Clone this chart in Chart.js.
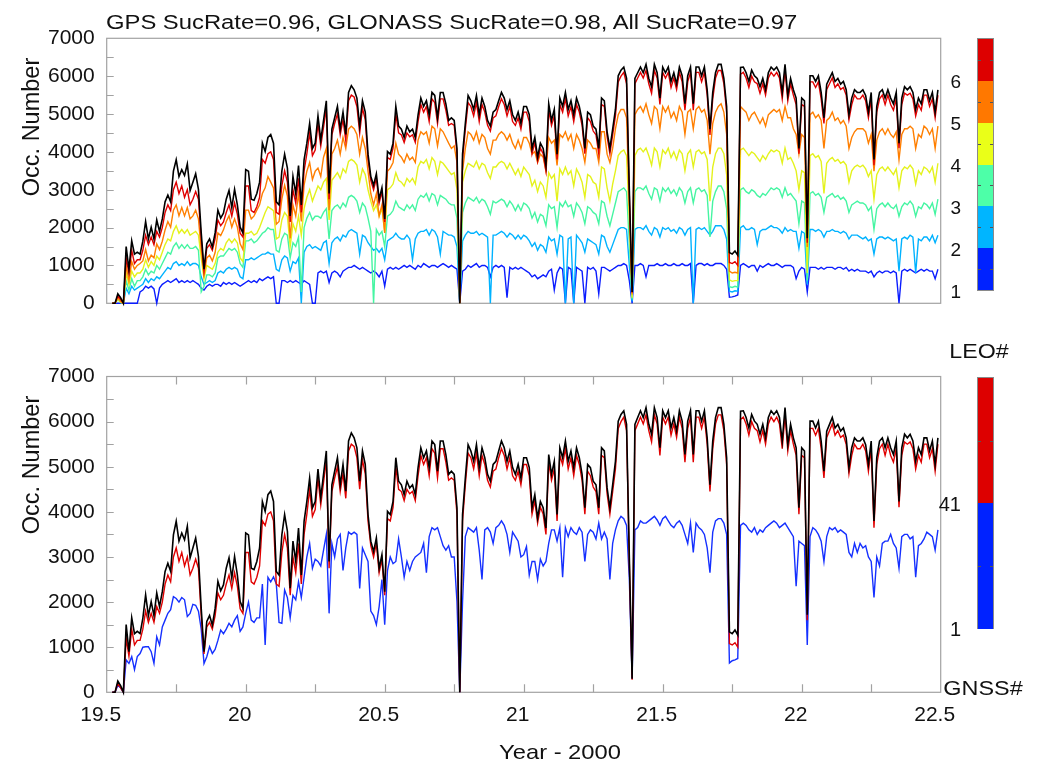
<!DOCTYPE html>
<html>
<head>
<meta charset="utf-8">
<title>Occultation number per day</title>
<script src="https://cdn.jsdelivr.net/npm/chart.js@4.4.1/dist/chart.umd.min.js"></script>
<style>
  html, body { margin: 0; padding: 0; background: #fff; }
  #wrap { position: relative; width: 1038px; height: 772px; overflow: hidden;
          font-family: "Liberation Sans", Arial, sans-serif; color: #111; }
  canvas { position: absolute; left: 0; top: 0; }
  .t { position: absolute; white-space: nowrap; line-height: 1; }
  .bar { position: absolute; left: 977px; width: 17px; box-sizing: border-box; }
  .tick { position: absolute; width: 3px; height: 1px; background: #555; }
</style>
</head>
<body>
<div id="wrap">
  <canvas id="panelTop" width="1038" height="772"></canvas>
  <canvas id="panelBottom" width="1038" height="772"></canvas>

  <div class="t" style="left:106px; top:12px; font-size:20px; transform-origin:0 50%; transform:scaleX(1.19);">GPS SucRate=0.96, GLONASS SucRate=0.98, All SucRate=0.97</div>

  <div class="t" style="left:32px; top:127px; font-size:23.5px; transform:translate(-50%,-50%) rotate(-90deg);">Occ. Number</div>
  <div class="t" style="left:32px; top:465px; font-size:23.5px; transform:translate(-50%,-50%) rotate(-90deg);">Occ. Number</div>
  <div class="t" style="left:560px; top:741px; font-size:21px; transform:translateX(-50%) scaleX(1.13);">Year - 2000</div>

  <!-- LEO colour bar -->
  <div id="leoBar"></div>
  <div class="t" style="right:77px; top:72px; font-size:19px;">6</div>
  <div class="t" style="right:77px; top:114px; font-size:19px;">5</div>
  <div class="t" style="right:77px; top:156px; font-size:19px;">4</div>
  <div class="t" style="right:77px; top:198px; font-size:19px;">3</div>
  <div class="t" style="right:77px; top:240px; font-size:19px;">2</div>
  <div class="t" style="right:77px; top:282px; font-size:19px;">1</div>
  <div class="t" style="left:979px; top:341px; font-size:20px; transform:translateX(-50%) scaleX(1.16);">LEO#</div>

  <!-- GNSS colour bar -->
  <div id="gnssBar"></div>
  <div class="t" style="right:77px; top:494px; font-size:20px;">41</div>
  <div class="t" style="right:77px; top:619px; font-size:20px;">1</div>
  <div class="t" style="left:983px; top:678px; font-size:20px; transform:translateX(-50%) scaleX(1.17);">GNSS#</div>
</div>

<script>
// Daily occultation counts, sampled every 0.01 year starting at 19.50 (Year - 2000).
const startYear = 19.50;
const stepYear = 0.01;

// Total number of occultations (all LEOs / all GNSS)
const occAll = [
  null, null, 0, 0, 250, 150, 0, 1500, 900, 1650,
  1300, 1350, 1300, 1640, 2160, 1700, 2010, 1700, 2200, 1900,
  2230, 2680, 2860, 2680, 3490, 3790, 3350, 3530, 3380, 3680,
  2980, 3200, 3420, 3010, 1860, 900, 1570, 1700, 1490, 1860,
  2460, 2250, 2380, 2750, 2980, 2530, 3010, 2600, 2010, 1860,
  3530, 3490, 2750, 2720, 2900, 3200, 4230, 4010, 4380, 4460,
  4230, 2680, 2600, 3490, 3940, 3570, 2310, 3350, 2900, 3640,
  2600, 3790, 4230, 4750, 4090, 4230, 4950, 4310, 4830, 5350,
  2900, 4600, 4900, 5200, 4600, 5050, 4460, 5570, 5750, 5640,
  5420, 4680, 5350, 5050, 3940, 3350, 3120, 3420, 2750, 3050,
  2230, 4010, 3940, 4230, 5200, 4680, 4600, 4380, 4680, 4530,
  4600, 4380, 4980, 5420, 5200, 5350, 4980, 5570, 5490, 4900,
  5570, 5570, 5270, 4830, 4900, 4830, 4090, 0, 3940, 4750,
  5490, 5350, 5120, 5490, 4980, 5420, 5200, 4830, 4680, 5050,
  5120, 5350, 5570, 5420, 5120, 5350, 4980, 4830, 5050, 4750,
  5200, 5200, 4980, 4090, 4380, 3860, 4230, 4090, 3640, 5270,
  4830, 5120, 3940, 5420, 5200, 5570, 5120, 5350, 4980, 5420,
  5200, 4830, 4090, 5050, 4980, 4680, 4600, 4090, 5420, 5350,
  4530, 4090, 4600, 5120, 6010, 6160, 6240, 5940, 2980, 300,
  5940, 6090, 6240, 6090, 6310, 5940, 5720, 6310, 6090, 5420,
  6240, 6090, 6240, 5860, 6090, 5790, 6240, 6010, 5270, 6010,
  6240, 5270, 6240, 6240, 6010, 6240, 5640, 4600, 5570, 6090,
  6310, 6310, 5940, 5200, 1340, 1300, 1380, 1270, 6230, 6240,
  6090, 5860, 6160, 6010, 5940, 5720, 5940, 5640, 6090, 6240,
  6160, 6240, 6090, 5570, 6310, 5490, 5940, 5640, 5420, 4090,
  5420, 5350, 1720, 6010, 6010, 5860, 6010, 5570, 4900, 5790,
  5940, 6090, 5860, 5940, 5790, 5860, 5640, 4980, 5420, 5640,
  5570, 5570, 5640, 5490, 5050, 5570, 3800, 5200, 5570, 5640,
  5420, 5640, 5420, 5270, 5570, 4230, 5420, 5720, 5640, 5720,
  5570, 5120, 5420, 5270, 5640, 5640, 5350, 5570, 5050, 5640
];

// Red curve just under the total (top: up to 6 LEOs, bottom: all but the last GNSS group)
const occNearAll = [
  null, null, 0, 0, 200, 100, 0, 1200, 800, 1400,
  1050, 1150, 1150, 1400, 1800, 1550, 1750, 1550, 1900, 1750,
  2000, 2400, 2600, 2450, 3000, 3200, 2900, 3100, 2800, 3000,
  2600, 2750, 2950, 2750, 1700, 850, 1450, 1550, 1400, 1700,
  2200, 2050, 2150, 2400, 2600, 2300, 2650, 2350, 1850, 1750,
  3100, 3100, 2450, 2400, 2550, 2800, 3800, 3700, 3950, 4000,
  3800, 2400, 2350, 3100, 3500, 3200, 2150, 3000, 2650, 3300,
  2400, 3500, 3950, 4500, 3900, 4050, 4750, 4150, 4650, 5150,
  2750, 4450, 4750, 5000, 4450, 4850, 4300, 5350, 5500, 5450,
  5200, 4500, 5150, 4850, 3800, 3250, 3000, 3300, 2650, 2950,
  2150, 3850, 3800, 4100, 5000, 4500, 4450, 4250, 4500, 4400,
  4450, 4250, 4800, 5250, 5050, 5200, 4800, 5400, 5300, 4750,
  5400, 5400, 5100, 4700, 4750, 4700, 3950, 0, 3800, 4600,
  5300, 5200, 4950, 5300, 4800, 5250, 5050, 4700, 4550, 4900,
  4950, 5200, 5400, 5250, 4950, 5200, 4800, 4700, 4900, 4600,
  5050, 5050, 4800, 3950, 4250, 3750, 4100, 3950, 3500, 5100,
  4700, 4950, 3800, 5250, 5050, 5400, 4950, 5200, 4800, 5250,
  5050, 4700, 3950, 4900, 4800, 4550, 4450, 3950, 5250, 5200,
  4400, 3950, 4450, 4950, 5850, 6000, 6100, 5800, 2850, 280,
  5800, 5950, 6100, 5950, 6150, 5800, 5550, 6150, 5950, 5250,
  6100, 5950, 6100, 5700, 5950, 5650, 6100, 5850, 5100, 5850,
  6100, 5100, 6100, 6100, 5850, 6100, 5500, 4450, 5400, 5950,
  6150, 6150, 5800, 5050, 1080, 1050, 1100, 1000, 6050, 6100,
  5950, 5700, 6000, 5850, 5800, 5550, 5800, 5500, 5950, 6100,
  6000, 6100, 5950, 5400, 6150, 5350, 5800, 5500, 5250, 3950,
  5250, 5200, 1600, 5850, 5850, 5700, 5850, 5400, 4750, 5650,
  5800, 5950, 5700, 5800, 5650, 5700, 5500, 4850, 5250, 5500,
  5400, 5400, 5500, 5350, 4900, 5400, 3650, 5050, 5400, 5500,
  5250, 5500, 5250, 5100, 5400, 4100, 5250, 5550, 5500, 5550,
  5400, 4950, 5250, 5100, 5500, 5500, 5200, 5400, 4900, 5500
];

// Occultations from up to 5 LEOs
const occLeo5 = [
  null, null, 0, 0, 150, 50, 0, 1000, 600, 1100,
  900, 1000, 1050, 1120, 1420, 1120, 1270, 1200, 1570, 1420,
  1640, 1940, 2160, 2010, 2460, 2600, 2310, 2530, 2310, 2530,
  2230, 2310, 2460, 2230, 1420, 750, 1200, 1270, 1120, 1340,
  1860, 1790, 1940, 2160, 2310, 2010, 2230, 2010, 1570, 1420,
  2460, 2460, 2230, 2310, 2460, 2600, 2900, 3050, 3350, 3200,
  3050, 2090, 2160, 2750, 3120, 2830, 1710, 2600, 2310, 2900,
  2160, 3120, 3490, 3720, 3270, 3490, 3570, 3350, 3860, 4090,
  2460, 3940, 4090, 4310, 3940, 4380, 4090, 4600, 4680, 4610,
  4460, 3940, 4380, 4090, 3490, 2900, 2600, 2900, 2310, 2600,
  1860, 3490, 3570, 3720, 4230, 3940, 3860, 3720, 3940, 3790,
  3860, 3720, 4310, 4530, 4460, 4530, 4230, 4680, 4610, 4160,
  4610, 4530, 4380, 4230, 4090, 4160, 3720, 0, 3490, 4090,
  4530, 4460, 4310, 4530, 4230, 4460, 4380, 4090, 3940, 4310,
  4310, 4460, 4530, 4460, 4310, 4460, 4230, 4090, 4310, 4090,
  4380, 4380, 4230, 3940, 4010, 3720, 3940, 3860, 3490, 4380,
  4230, 4310, 3640, 4460, 4380, 4530, 4310, 4460, 4090, 4460,
  4310, 4090, 3720, 4310, 4230, 4090, 4090, 3720, 4530, 4530,
  3940, 3720, 4090, 4610, 4980, 5120, 5120, 4900, 2600, 230,
  4980, 5120, 5200, 5050, 5270, 4980, 4750, 5200, 5120, 4610,
  5200, 5050, 5200, 4900, 5050, 4830, 5200, 5050, 4460, 5050,
  5120, 4610, 5120, 5200, 5050, 5120, 4830, 3940, 4750, 5050,
  5200, 5270, 5050, 4460, 850, 800, 820, 800, 5200, 5120,
  5050, 4830, 4980, 5050, 4900, 4750, 4900, 4680, 4980, 5050,
  5120, 5050, 5120, 4830, 5200, 4900, 4900, 4610, 4460, 3940,
  4460, 4380, 1490, 4980, 5050, 4900, 4980, 4830, 4090, 4830,
  4900, 5050, 4830, 4900, 4750, 4830, 4680, 4090, 4380, 4530,
  4610, 4610, 4610, 4530, 4230, 4460, 3490, 4310, 4530, 4610,
  4460, 4610, 4460, 4380, 4530, 3790, 4460, 4610, 4610, 4680,
  4610, 4090, 4460, 4380, 4680, 4610, 4460, 4610, 4090, 4680
];

// Occultations from up to 4 LEOs
const occLeo4 = [
  null, null, 0, 0, 120, 30, 0, 800, 500, 850,
  700, 800, 800, 900, 1150, 950, 1100, 1000, 1250, 1150,
  1350, 1550, 1700, 1650, 1900, 2050, 1850, 1950, 1850, 1950,
  1800, 1850, 1900, 1800, 1200, 650, 1000, 950, 900, 1050,
  1350, 1450, 1400, 1600, 1700, 1600, 1700, 1600, 1200, 1100,
  1850, 1850, 1900, 1800, 1850, 2000, 2200, 2400, 2550, 2500,
  2450, 1700, 1750, 2200, 2400, 2300, 1500, 2100, 1900, 2300,
  1800, 2500, 2800, 3000, 2700, 2900, 3100, 3000, 3200, 3300,
  2200, 3250, 3350, 3450, 3300, 3550, 3450, 3750, 3800, 3750,
  3650, 3200, 3550, 3400, 3000, 2700, 2450, 2600, 2300, 2500,
  1900, 3000, 3050, 3150, 3450, 3250, 3200, 3100, 3300, 3200,
  3300, 3150, 3600, 3750, 3700, 3800, 3550, 3850, 3750, 3400,
  3750, 3700, 3600, 3500, 3400, 3450, 3000, 0, 3200, 3500,
  3700, 3650, 3600, 3750, 3550, 3700, 3650, 3450, 3300, 3600,
  3600, 3700, 3750, 3700, 3550, 3700, 3550, 3400, 3550, 3350,
  3600, 3500, 3400, 3100, 3250, 2950, 3200, 3100, 2800, 3450,
  3300, 3400, 2700, 3550, 3400, 3600, 3400, 3500, 3100, 3550,
  3400, 3200, 2800, 3400, 3350, 3200, 3150, 2800, 3600, 3550,
  3050, 2700, 3150, 3500, 3900, 4000, 4050, 3900, 2200, 150,
  3900, 4050, 4100, 4000, 4100, 3900, 3650, 4100, 4000, 3600,
  4050, 3950, 4100, 3850, 4000, 3800, 4050, 3950, 3500, 3950,
  4050, 3600, 4000, 4050, 3950, 4000, 3800, 2700, 3600, 3950,
  4100, 4100, 3950, 3400, 620, 580, 600, 600, 4050, 4100,
  4000, 3900, 4000, 3950, 3850, 3750, 3900, 3800, 3950, 4050,
  4000, 4050, 4000, 3700, 4100, 3800, 3850, 3700, 3500, 3000,
  3500, 3450, 800, 3900, 3950, 3850, 3900, 3750, 2900, 3700,
  3800, 3850, 3750, 3800, 3700, 3750, 3650, 3200, 3500, 3600,
  3650, 3600, 3650, 3550, 3350, 3500, 2750, 3400, 3550, 3600,
  3500, 3600, 3500, 3400, 3550, 3050, 3500, 3600, 3550, 3650,
  3550, 3150, 3500, 3400, 3600, 3550, 3450, 3600, 3200, 3700
];

// Occultations from up to 3 LEOs
const occLeo3 = [
  null, null, 0, 0, 100, 20, 0, 600, 350, 650,
  450, 600, 600, 700, 900, 750, 850, 800, 1000, 900,
  1050, 1200, 1350, 1300, 1500, 1600, 1450, 1550, 1450, 1550,
  1450, 1450, 1500, 1400, 300, 450, 750, 750, 700, 800,
  1200, 1250, 1250, 1350, 1450, 1400, 1450, 1350, 1050, 950,
  1650, 1650, 1700, 1600, 1650, 1750, 1850, 1900, 2000, 1950,
  1950, 1400, 1350, 1700, 1850, 1800, 1200, 1600, 1500, 1750,
  300, 2000, 2250, 2400, 2200, 2300, 2300, 2250, 2400, 2500,
  1700, 2450, 2550, 2600, 2500, 2650, 2550, 2800, 2850, 2800,
  2700, 2400, 2650, 2550, 2250, 1900, 0, 1950, 1800, 1900,
  1500, 2300, 2350, 2450, 2700, 2550, 2500, 2450, 2600, 2500,
  2600, 2450, 2750, 2850, 2800, 2900, 2700, 2900, 2850, 2600,
  2850, 2800, 2750, 2650, 2600, 2600, 2250, 0, 2400, 2650,
  2800, 2750, 2700, 2800, 2650, 2750, 2700, 2550, 2350, 2700,
  2650, 2700, 2750, 2700, 2550, 2700, 2600, 2450, 2600, 2450,
  2650, 2600, 2500, 2250, 2400, 2150, 2350, 2300, 2050, 2600,
  2500, 2550, 2000, 2650, 2550, 2700, 2550, 2600, 2300, 2650,
  2550, 2400, 2100, 2550, 2500, 2400, 2350, 2100, 2700, 2650,
  2300, 2050, 2350, 2650, 2950, 3000, 3050, 2950, 1600, 100,
  2950, 3050, 3050, 3000, 3100, 2900, 2750, 3050, 3000, 2700,
  3050, 2950, 3050, 2900, 3000, 2850, 3050, 2950, 2650, 2950,
  3050, 2650, 3000, 3050, 2950, 3000, 2850, 1750, 2700, 2950,
  3100, 3100, 2950, 2500, 440, 420, 450, 430, 3000, 3050,
  2950, 2900, 3000, 2950, 2850, 2800, 2900, 2850, 2950, 3050,
  3000, 3050, 3000, 2800, 3050, 2850, 2900, 2800, 2700, 2100,
  2700, 2650, 600, 2900, 2950, 2850, 2900, 2800, 2400, 2800,
  2850, 2900, 2800, 2850, 2750, 2800, 2700, 2400, 2600, 2650,
  2700, 2650, 2650, 2600, 2450, 2550, 1950, 2500, 2600, 2650,
  2550, 2650, 2550, 2500, 2600, 2300, 2550, 2650, 2600, 2700,
  2600, 2300, 2550, 2500, 2650, 2600, 2500, 2650, 2350, 2750
];

// Occultations from up to 2 LEOs
const occLeo2 = [
  null, null, 0, 0, 150, 50, 0, 400, 250, 450,
  350, 400, 450, 500, 650, 550, 650, 600, 700, 650,
  750, 850, 950, 900, 1050, 1100, 1000, 1050, 1000, 1100,
  1000, 1050, 1050, 1000, 700, 500, 550, 600, 550, 600,
  800, 850, 800, 900, 950, 900, 950, 900, 700, 650,
  1150, 1150, 1200, 1150, 1200, 1250, 1300, 1300, 1350, 1300,
  1300, 900, 850, 1150, 1250, 1200, 850, 1100, 1050, 1200,
  0, 1350, 1500, 1550, 1450, 1500, 1450, 1400, 1600, 1650,
  1050, 1600, 1700, 1750, 1650, 1800, 1750, 1900, 1950, 1900,
  1850, 1300, 1800, 1750, 1600, 1500, 1400, 1450, 1350, 1450,
  1150, 1650, 1700, 1750, 1850, 1750, 1700, 1700, 1800, 1700,
  1150, 1700, 1850, 1900, 1900, 1950, 1800, 1950, 1900, 1750,
  1300, 1900, 1850, 1800, 1800, 1750, 1500, 0, 1650, 1800,
  1900, 1850, 1850, 1900, 1800, 1850, 1800, 1750, 0, 1800,
  1800, 1850, 1900, 1850, 1750, 1850, 1800, 1700, 1800, 1700,
  1800, 1750, 1650, 1500, 1600, 1400, 1550, 1500, 1350, 1750,
  1650, 1700, 1300, 1800, 1750, 0, 1700, 1750, 0, 1800,
  1700, 1600, 1350, 1700, 1650, 1600, 1550, 1300, 1800, 1750,
  1500, 1350, 1550, 1750, 1950, 2000, 2000, 1950, 1000, 50,
  1950, 2000, 2000, 1950, 2050, 1900, 1800, 2000, 1950, 1750,
  2000, 1950, 2000, 1900, 1950, 1850, 2000, 1950, 1800, 1950,
  2000, 0, 1950, 2000, 1950, 2000, 1900, 1800, 1900, 2050,
  2050, 2050, 1950, 1700, 320, 300, 330, 320, 2000, 2050,
  1950, 1950, 2000, 1950, 1550, 1900, 1950, 1950, 2000, 2050,
  2000, 2000, 1950, 1850, 2000, 1900, 1950, 1900, 1900, 1450,
  1900, 1850, 500, 1950, 1950, 1900, 1950, 1900, 1750, 1900,
  1900, 1950, 1900, 1900, 1850, 1900, 1850, 1700, 1800, 1800,
  1800, 1750, 1700, 1750, 1650, 1700, 1300, 1700, 1750, 1750,
  1700, 1750, 1700, 1650, 1700, 850, 1700, 1750, 1700, 1800,
  1750, 800, 1700, 1650, 1750, 1750, 1650, 1800, 1600, 1800
];

// Occultations from a single LEO
const occLeo1 = [
  null, null, 0, 0, 0, 0, 0, 0, 0, 0,
  0, 0, 300, 350, 450, 400, 450, 380, 0, 400,
  500, 550, 600, 550, 600, 650, 550, 600, 550, 600,
  550, 600, 550, 500, 400, 350, 450, 500, 450, 500,
  500, 450, 550, 500, 550, 500, 550, 500, 450, 500,
  550, 600, 550, 600, 550, 650, 600, 650, 700, 650,
  700, 0, 0, 600, 600, 550, 600, 550, 600, 550,
  500, 600, 550, 500, 0, 0, 800, 850, 800, 850,
  550, 800, 850, 800, 700, 850, 900, 950, 950, 1000,
  950, 900, 950, 900, 850, 800, 850, 800, 700, 850,
  450, 900, 950, 900, 950, 900, 950, 1000, 950, 1000,
  950, 900, 1000, 950, 1050, 1000, 950, 1000, 1000, 950,
  1000, 1050, 1000, 950, 1000, 950, 900, 0, 850, 900,
  1000, 950, 1000, 1050, 950, 1000, 1000, 950, 700, 950,
  1000, 950, 1000, 950, 150, 950, 900, 950, 900, 950,
  900, 850, 800, 700, 750, 650, 700, 750, 700, 850,
  900, 350, 800, 950, 900, 0, 950, 900, 0, 950,
  900, 850, 0, 950, 900, 950, 850, 250, 950, 950,
  900, 850, 900, 950, 1000, 1000, 1050, 1000, 600, 0,
  1000, 1000, 1050, 1000, 700, 1000, 1000, 1000, 1050, 1000,
  1000, 1050, 1000, 1000, 1050, 1000, 1000, 1050, 1000, 1000,
  1050, 0, 1000, 1050, 1050, 1000, 1050, 1000, 1000, 1050,
  1050, 1050, 1000, 900, 160, 170, 190, 220, 1000, 1050,
  1000, 950, 1000, 1000, 850, 1000, 950, 1000, 1050, 1000,
  1000, 1050, 1000, 950, 1000, 1000, 1000, 950, 650, 850,
  950, 900, 300, 950, 950, 950, 900, 950, 900, 950,
  950, 950, 900, 950, 950, 900, 950, 850, 900, 850,
  900, 850, 850, 850, 800, 850, 700, 800, 850, 800,
  850, 850, 800, 850, 800, 0, 850, 900, 850, 900,
  850, 800, 850, 900, 850, 900, 850, 850, 650, 900
];

// Occultations from GNSS satellites 1-40 (GPS)
const occGps = [
  null, null, 0, 0, 150, 100, 0, 720, 640, 790,
  500, 790, 860, 1000, 1010, 1010, 900, 640, 1230, 1050,
  1450, 1600, 1750, 1830, 2120, 2080, 2000, 2100, 2050, 1680,
  1750, 1950, 1930, 1800, 1400, 640, 790, 1010, 860, 950,
  1150, 1380, 1300, 1400, 1530, 1450, 1600, 1700, 1350, 1450,
  1750, 2000, 1600, 1550, 1650, 1650, 2400, 1050, 2550, 2450,
  2560, 2400, 1550, 1530, 2270, 2100, 1650, 2150, 2050, 2450,
  2100, 2550, 3000, 3300, 2750, 2950, 2900, 2800, 3150, 3500,
  1750, 3300, 3000, 3400, 3500, 2700, 3200, 3550, 3500, 3550,
  3500, 2300, 3200, 3050, 2900, 1800, 1700, 1500, 1900, 2500,
  1500, 2700, 3000, 2850, 2900, 3400, 3000, 2550, 2900, 2700,
  2900, 3000, 3050, 3100, 3300, 2650, 3450, 3650, 3600, 3650,
  3450, 3250, 3150, 3250, 3000, 3000, 2000, 0, 2000, 3450,
  3650, 3600, 3550, 3650, 3150, 2500, 3600, 3650, 3550, 3300,
  3650, 3700, 3800, 3700, 3500, 3100, 3550, 3450, 3350, 3000,
  3050, 3230, 2600, 2900, 2900, 2500, 2950, 2800, 2900, 3300,
  3600, 3600, 3350, 3650, 2550, 3650, 3450, 3650, 3550, 3500,
  3650, 3550, 2900, 3500, 3600, 3550, 3400, 3750, 3400, 3550,
  3400, 2500, 3300, 3600, 3800, 3900, 3850, 3700, 2500, 300,
  3600, 3650, 3800, 3750, 3750, 3800, 3850, 3900, 3820, 3700,
  3850, 3900, 3800, 3700, 3650, 3750, 3800, 3700, 3500, 3300,
  3750, 3100, 3750, 3650, 3600, 3500, 3200, 2650, 3550, 3800,
  3850, 3850, 3750, 3500, 650, 700, 720, 750, 3700, 3750,
  3700, 3600, 3550, 3650, 3500, 3600, 3550, 3650, 3700, 3750,
  3800, 3750, 3650, 3700, 3750, 3650, 3550, 3450, 2350, 3350,
  3300, 3250, 1050, 3450, 3650, 3600, 3500, 3350, 2900, 3450,
  3650, 3600, 3650, 3550, 3600, 3550, 3500, 3100, 3000, 3300,
  3100, 3300, 3200, 3250, 3000, 2900, 2100, 3000, 2800, 3300,
  3350, 3350, 3500, 3300, 3200, 2750, 3450, 3500, 3500, 3400,
  3450, 2550, 3250, 3300, 3400, 3550, 3500, 3450, 3150, 3600
];

// Axis ticks
const xTickStep = 0.5;
const yTickStep = 1000;
const xMinorTicks = [19.75, 20, 20.25, 20.5, 20.75, 21, 21.25, 21.5, 21.75, 22, 22.25];
const yMinorTicks = [500, 1000, 1500, 2000, 2500, 3000, 3500, 4000, 4500, 5000, 5500, 6000, 6500];

// Colour bar classes
const leoColors  = ['#dd0000', '#ff7800', '#eaff18', '#4dffa8', '#00b5ff', '#0022ff'];
const gnssColors = ['#dd0000', '#0022ff'];

const years = occAll.map((_, i) => +(startYear + i * stepYear).toFixed(2));
const toPoints = arr => arr.map((v, i) => ({ x: years[i], y: v }));

function line(label, arr, color, width) {
  return {
    label, data: toPoints(arr), borderColor: color, backgroundColor: color,
    borderWidth: width, pointRadius: 0, tension: 0, spanGaps: false, clip: false
  };
}

// Frame and inward tick marks, drawn under the curves
const framePlugin = {
  id: 'frame',
  beforeDatasetsDraw(chart, args, opts) {
    const { ctx, chartArea: a, scales: { x, y } } = chart;
    ctx.save();
    ctx.strokeStyle = '#a2a2a2';
    ctx.lineWidth = 1.2;
    ctx.strokeRect(a.left, a.top, a.right - a.left, a.bottom - a.top);
    ctx.beginPath();
    for (const v of yMinorTicks) {
      const py = Math.round(y.getPixelForValue(v)) + 0.5;
      ctx.moveTo(a.left, py); ctx.lineTo(a.left + 7, py);
    }
    if (opts.xTicks) {
      for (const v of xMinorTicks) {
        const px = Math.round(x.getPixelForValue(v)) + 0.5;
        ctx.moveTo(px, a.bottom); ctx.lineTo(px, a.bottom - 8);
        ctx.moveTo(px, a.top); ctx.lineTo(px, a.top + 8);
      }
    }
    ctx.stroke();
    ctx.restore();
  }
};

const tickFont = { family: '"Liberation Sans", Arial, sans-serif', size: 21 };

function panelOptions(showX, pad) {
  return {
    responsive: false,
    animation: false,
    events: [],
    layout: { padding: pad },
    plugins: { legend: { display: false }, tooltip: { enabled: false }, frame: { xTicks: showX } },
    scales: {
      x: {
        type: 'linear', min: 19.5, max: 22.5, display: showX,
        grid: { display: false, drawTicks: false },
        border: { display: false },
        ticks: {
          stepSize: xTickStep, color: '#111', font: tickFont, padding: 10, labelOffset: -6,
          maxRotation: 0, autoSkip: false,
          callback: v => String(+v.toFixed(1))
        },
        afterFit: s => { s.height = 50; }
      },
      y: {
        type: 'linear', min: 0, max: 7000,
        grid: { display: false, drawTicks: false },
        border: { display: false },
        ticks: { stepSize: yTickStep, color: '#111', font: tickFont, padding: 12,
                 callback: v => String(v) },
        afterFit: s => { s.width = 106.7; }
      }
    }
  };
}

new Chart(document.getElementById('panelTop'), {
  type: 'line',
  data: {
    datasets: [
      line('All', occAll, '#000000', 1.6),
      line('LEO# <= 6', occNearAll, '#e00000', 1.4),
      line('LEO# <= 5', occLeo5, '#ff7f00', 1.4),
      line('LEO# <= 4', occLeo4, '#e4f21c', 1.4),
      line('LEO# <= 3', occLeo3, '#45f5a2', 1.4),
      line('LEO# <= 2', occLeo2, '#00b2ff', 1.4),
      line('LEO# 1', occLeo1, '#0a1cff', 1.4)
    ]
  },
  options: panelOptions(false, { top: 38.3, left: 0, right: 97.3, bottom: 418.7 }),
  plugins: [framePlugin]
});

new Chart(document.getElementById('panelBottom'), {
  type: 'line',
  data: {
    datasets: [
      line('All', occAll, '#000000', 1.6),
      line('GNSS# <= 80', occNearAll, '#e00000', 1.4),
      line('GNSS# 1-40', occGps, '#1530ff', 1.4)
    ]
  },
  options: panelOptions(true, { top: 376.5, left: 0, right: 97.3, bottom: 29.7 }),
  plugins: [framePlugin]
});

// Colour bars (class legends)
function buildBar(el, colors, top, height) {
  el.className = 'bar';
  el.style.top = top + 'px';
  el.style.height = height + 'px';
  el.style.border = '1px solid #8a8a8a';
  const seg = (height - 2) / colors.length;
  colors.forEach((c, i) => {
    const d = document.createElement('div');
    d.style.cssText = `position:absolute;left:0;right:0;top:${i * seg}px;height:${seg + 0.5}px;background:${c};`;
    el.appendChild(d);
    const ty = i * seg + seg / 2;
    for (const side of ['left:0', 'right:0']) {
      const t = document.createElement('div');
      t.className = 'tick';
      t.style.cssText += `top:${ty}px;${side};`;
      el.appendChild(t);
    }
  });
}
buildBar(document.getElementById('leoBar'), leoColors, 38, 253);
buildBar(document.getElementById('gnssBar'), gnssColors, 377, 252);
</script>
</body>
</html>
